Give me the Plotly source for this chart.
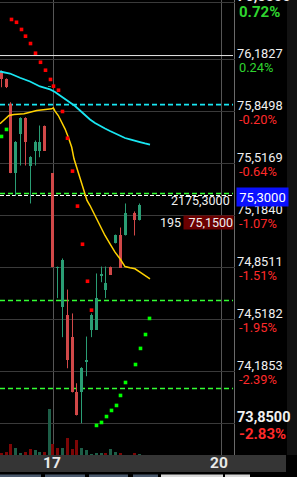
import plotly.graph_objects as go

# ----------------------------- data -----------------------------
# time slots of the intraday candles (axis units; session of the 17th starts at 53.5)
t = [1.5, 6.5, 10.5, 15.5, 20.5, 25.5, 30.5, 35.5, 39.5, 44.5, 49.5, 52.5, 57.5,
     62.5, 67.5, 72.5, 76.5, 81.5, 86.5, 91.5, 96.5, 101.5, 105.5, 110.5, 115.5,
     120.5, 125.5, 134.5, 139.5]
open_ = [76.106, 76.055, 75.899, 75.455, 75.703, 75.807, 75.504, 75.600, 75.600, 75.756,
         76.008, 75.455, 74.848, 74.601, 74.550, 74.405, 74.053, 74.053, 74.250, 74.454,
         74.454, 74.800, 74.704, 74.853, 75.005, 75.056, 75.056, 75.203, 75.152]
high = [76.112, 76.062, 75.909, 75.660, 75.813, 75.813, 75.564, 75.664, 75.760, 75.760,
        76.012, 75.455, 74.857, 74.909, 74.710, 74.557, 74.110, 74.213, 74.409, 74.557,
        74.813, 74.857, 74.857, 74.857, 75.062, 75.107, 75.261, 75.210, 75.261]
low = [76.005, 76.000, 75.455, 75.312, 75.504, 75.504, 75.261, 75.504, 75.557, 75.600,
       76.008, 74.853, 74.655, 74.405, 74.206, 74.051, 73.904, 73.854, 74.155, 74.405,
       74.454, 74.757, 74.655, 74.806, 75.005, 74.851, 75.056, 75.056, 75.152]
close = [76.055, 76.005, 75.455, 75.653, 75.810, 75.653, 75.557, 75.653, 75.653, 75.600,
         76.011, 74.853, 74.850, 74.902, 74.256, 74.053, 73.904, 74.206, 74.255, 74.550,
         74.653, 74.805, 74.755, 74.806, 75.056, 74.851, 75.203, 75.152, 75.254]
volume = [2.3, 3.3, 11, 7.3, 2.3, 3, 6, 4.7, 3, 3, 46, 11, 7.3, 7.3, 17, 6, 15, 7, 5, 1,
          2, 2, 2, 6, 3, 2, 0, 2, 1]   # thousand lots

ma_fast_t = [0, 5, 9, 14, 20, 24, 30, 36.7, 43.3, 51.7, 53.3, 55, 58.3, 61.7, 65, 68.3,
             71.7, 74, 76.7, 80, 83.3, 87, 90, 95, 100, 105, 110, 115, 120, 123.3, 125,
             130, 135, 140, 145, 150]
ma_fast = [75.771, 75.803, 75.824, 75.831, 75.831, 75.835, 75.845, 75.856, 75.861, 75.867,
           75.873, 75.852, 75.824, 75.781, 75.739, 75.685, 75.621, 75.547, 75.493, 75.427,
           75.355, 75.280, 75.248, 75.184, 75.120, 75.056, 75.003, 74.949, 74.907, 74.875,
           74.857, 74.849, 74.843, 74.821, 74.800, 74.779]
ma_slow_t = [0, 10, 20, 30, 40, 50, 55, 60, 65, 70, 75, 80, 85, 90, 95, 100, 105, 110,
             115, 120, 125, 130, 135, 140, 145, 150]
ma_slow = [76.106, 76.093, 76.066, 76.042, 76.010, 75.991, 75.975, 75.952, 75.930, 75.907,
           75.885, 75.856, 75.827, 75.799, 75.776, 75.757, 75.741, 75.725, 75.709, 75.693,
           75.680, 75.671, 75.664, 75.654, 75.645, 75.637]

sar_dn_t = [11.5, 16.5, 21.5, 25.5, 30.5, 35.5, 40.5, 45.5, 50.5, 53.5, 58.5, 62.5, 67.5,
            72.5, 77.5, 82.5, 87.5, 91.5]
sar_dn = [76.439, 76.421, 76.375, 76.332, 76.285, 76.223, 76.165, 76.114, 76.055, 76.012,
          75.986, 75.850, 75.679, 75.468, 75.244, 75.000, 74.763, 74.578]
sar_up_t = [1.5, 6.5, 96.5, 101.5, 106.5, 111.5, 116.5, 120.5, 125.5, 135.5, 140.5, 145.5, 149.5]
sar_up = [75.690, 75.735, 73.840, 73.859, 73.897, 73.936, 73.968, 74.032, 74.115, 74.230,
          74.333, 74.422, 74.525]

grid_prices = [76.5500, 76.1827, 75.8498, 75.5169, 75.1840, 74.8511, 74.5182, 74.1853, 73.8500]
price_labels = ["76,5500", "76,1827", "75,8498", "75,5169", "75,1840", "74,8511",
                "74,5182", "74,1853", "73,8500"]
pct_labels = ["0.72%", "0.24%", "-0.20%", "-0.64%", "-1.07%", "-1.51%", "-1.95%",
              "-2.39%", "-2.83%"]

level_prices = [76.208, 75.894, 75.325, 75.312, 74.640, 74.076]
level_kinds = ["white", "cyan", "green", "whitedash", "green", "green"]

last_price = 75.3000
last_label = "75,3000"
order_price = 75.1500
order_qty = "195"
order_label = "75,1500"
pos_text = "2175,3000"

day_x = [53.5, 221.5]
day_labels = ["17", "20"]

# ----------------------------- styling -----------------------------
UP, DN = "#2a9d74", "#d14848"
VOL_UP, VOL_DN = "#1d5e47", "#7d0606"
FONT = "Roboto"
PLOT_W, PLOT_H = 235, 455


def px_x(p):
    return p / PLOT_W


def px_y(p):
    return (PLOT_H - p) / PLOT_H


up = [c >= o for o, c in zip(open_, close)]
vol_up = [up[0]] + [close[i] >= close[i - 1] for i in range(1, len(close))]

fig = go.Figure()

# volume
for flag, col in [(True, VOL_UP), (False, VOL_DN)]:
    fig.add_trace(go.Bar(
        x=[x for x, f in zip(t, vol_up) if f == flag],
        y=[v for v, f in zip(volume, vol_up) if f == flag],
        width=3, marker=dict(color=col, line=dict(width=0)), yaxis="y2", hoverinfo="skip"))

# wicks and bodies
for flag, col in [(True, UP), (False, DN)]:
    wx, wy, bx, bb, bh = [], [], [], [], []
    for x, o, h, l, c, f in zip(t, open_, high, low, close, up):
        if f != flag:
            continue
        wx += [x, x, None]
        wy += [l, h, None]
        bx.append(x)
        bb.append(min(o, c))
        bh.append(abs(c - o))
    fig.add_trace(go.Scatter(x=wx, y=wy, mode="lines", line=dict(color=col, width=1),
                             hoverinfo="skip"))
    fig.add_trace(go.Bar(x=bx, base=bb, y=bh, width=3,
                         marker=dict(color=col, line=dict(width=0)), hoverinfo="skip"))

# moving averages
fig.add_trace(go.Scatter(x=ma_slow_t, y=ma_slow, mode="lines",
                         line=dict(color="#19e6f2", width=1.8), hoverinfo="skip"))
fig.add_trace(go.Scatter(x=ma_fast_t, y=ma_fast, mode="lines",
                         line=dict(color="#ffd200", width=1.5), hoverinfo="skip"))

# parabolic SAR
fig.add_trace(go.Scatter(x=sar_dn_t, y=sar_dn, mode="markers",
                         marker=dict(symbol="square", size=3.6, color="#ff0000", line=dict(width=0)),
                         hoverinfo="skip"))
fig.add_trace(go.Scatter(x=sar_up_t, y=sar_up, mode="markers",
                         marker=dict(symbol="square", size=3.6, color="#00ff00", line=dict(width=0)),
                         hoverinfo="skip"))

shapes = []
styles = {
    "white": dict(color="#e6e6e6", width=1, dash="solid"),
    "cyan": dict(color="#19e6f2", width=1.6, dash="5px,3px"),
    "green": dict(color="#33ff33", width=1.4, dash="5px,3px"),
    "whitedash": dict(color="#ffffff", width=1, dash="4px,2px"),
}
for p, k in zip(level_prices, level_kinds):
    shapes.append(dict(type="line", xref="x", yref="y", x0=0, x1=233, y0=p, y1=p,
                       line=styles[k], layer="between"))
# right border of the price pane
shapes.append(dict(type="line", xref="x", yref="paper", x0=234.5, x1=234.5, y0=0, y1=1,
                   line=dict(color="#6a6a6a", width=1), layer="between"))
# time-axis band
shapes.append(dict(type="rect", xref="paper", yref="paper", x0=0, x1=px_x(286),
                   y0=px_y(472), y1=px_y(455), fillcolor="#353535", line=dict(width=0),
                   layer="above"))
# right scroll strip
shapes.append(dict(type="rect", xref="paper", yref="paper", x0=px_x(287), x1=px_x(297),
                   y0=px_y(455), y1=px_y(0), fillcolor="#121212", line=dict(width=0),
                   layer="above"))
# bottom tabs
for a, b, c in [(0, 41, "#4b5a6e"), (45, 85, "#4b5a6e"), (89, 128, "#4b5a6e"),
                (133, 158, "#4b5a6e"), (161, 223, "#d8d8d8"), (225, 250, "#d8d8d8")]:
    shapes.append(dict(type="rect", xref="paper", yref="paper", x0=px_x(a), x1=px_x(b),
                       y0=px_y(477), y1=px_y(474.5), fillcolor=c, line=dict(width=0),
                       layer="above"))

ann = []
n = len(grid_prices)
for i, (gp, pl, pc) in enumerate(zip(grid_prices, price_labels, pct_labels)):
    bold = i in (0, n - 1)
    pcol = "#2fd52f" if not pc.startswith("-") else "#ff2a2a"
    ann.append(dict(x=1, xref="paper", xanchor="left", xshift=0,
                    y=gp, yref="y", yanchor="middle", yshift=6,
                    text=f"<b>{pl}</b>" if bold else pl, showarrow=False,
                    font=dict(family=FONT, size=14.5 if bold else 12.8, color="#f0f0f0")))
    ann.append(dict(x=1, xref="paper", xanchor="left", xshift=1.5,
                    y=gp, yref="y", yanchor="middle", yshift=-10 if bold else -8,
                    text=f"<b>{pc}</b>" if bold else pc, showarrow=False,
                    font=dict(family=FONT, size=15 if bold else 12.8, color=pcol)))

# last price tag
ann.append(dict(x=px_x(235.7), xref="paper", xanchor="left", y=last_price, yref="y",
                yanchor="middle", yshift=0.5, width=51, height=18, borderpad=0,
                bgcolor="#0a10ff", text=last_label, showarrow=False, align="center",
                font=dict(family=FONT, size=13, color="#ffffff")))
# position / order markers
ann.append(dict(x=232, xref="x", xanchor="right", y=last_price, yref="y",
                yanchor="middle", yshift=-3.5, text=pos_text, showarrow=False,
                font=dict(family=FONT, size=12.5, color="#f0f0f0")))
ann.append(dict(x=182.5, xref="x", xanchor="right", y=order_price, yref="y",
                yanchor="middle", yshift=-1.5, text=order_qty, showarrow=False,
                font=dict(family=FONT, size=12.5, color="#f0f0f0")))
ann.append(dict(x=182.7, xref="x", xanchor="left", y=order_price, yref="y",
                yanchor="middle", yshift=-1.5, width=49, height=12.5, borderpad=0,
                bgcolor="#6b0000", text=order_label, showarrow=False, align="right",
                font=dict(family=FONT, size=12.5, color="#f0f0f0")))
# day labels
for dx, dl, sh in zip(day_x, day_labels, [-1.5, -3]):
    ann.append(dict(x=dx, xref="x", xshift=sh, y=px_y(463.5), yref="paper",
                    yanchor="middle", text=f"<b>{dl}</b>", showarrow=False,
                    font=dict(family=FONT, size=15.5, color="#e8e8e8")))

fig.update_layout(
    width=297, height=477,
    margin=dict(l=0, r=297 - PLOT_W, t=0, b=477 - PLOT_H),
    paper_bgcolor="#000000", plot_bgcolor="#000000",
    showlegend=False, barmode="overlay", bargap=0,
    xaxis=dict(range=[0, PLOT_W], tickvals=day_x, showgrid=True, gridcolor="#565656",
               gridwidth=1, showticklabels=False, ticks="", zeroline=False,
               showline=False, fixedrange=True),
    yaxis=dict(range=[73.6507, 76.5636], tickvals=grid_prices, showgrid=True,
               gridcolor="#3a3a3a", gridwidth=1, showticklabels=False, ticks="",
               zeroline=False, showline=False, fixedrange=True),
    yaxis2=dict(overlaying="y", range=[0, PLOT_H], visible=False, fixedrange=True),
    shapes=shapes, annotations=ann,
    font=dict(family=FONT, color="#f0f0f0"),
)

fig.write_html("out.html", config={"displayModeBar": False})
